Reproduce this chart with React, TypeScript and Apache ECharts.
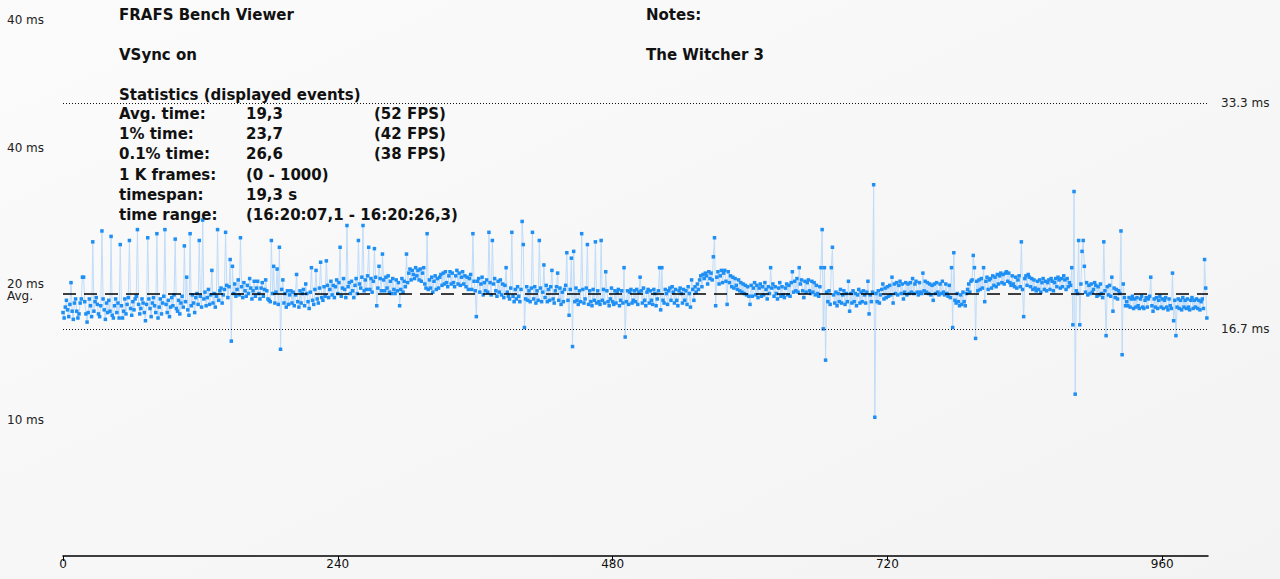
import React, { useEffect, useRef } from "react";
import * as echarts from "echarts";

// ---- frame times (ms), 100 frames per array ----
const frameTimes0 = [
  17.9, 17.5, 18.3, 18.8, 18.1, 17.6, 18.5, 20.1, 18.0, 17.4,
  18.6, 18.9, 18.0, 17.5, 17.8, 18.6, 18.9, 20.5, 20.5, 18.7,
  17.8, 17.2, 17.9, 18.9, 18.4, 17.6, 23.1, 18.0, 18.7, 19.0,
  18.5, 17.8, 17.6, 18.4, 23.9, 18.9, 18.1, 17.4, 18.6, 17.9,
  18.8, 18.0, 23.5, 17.7, 17.5, 18.4, 18.9, 17.9, 18.6, 17.5,
  22.9, 18.4, 17.5, 18.0, 18.9, 17.8, 18.5, 19.0, 23.2, 18.2,
  17.7, 18.7, 18.1, 18.9, 19.1, 24.0, 18.5, 17.8, 18.2, 18.9,
  18.6, 17.9, 17.3, 18.5, 23.4, 18.9, 18.2, 17.6, 18.6, 19.0,
  18.4, 17.9, 23.7, 17.5, 18.3, 18.9, 17.8, 18.6, 19.1, 24.0,
  18.5, 17.9, 18.8, 17.6, 18.3, 19.0, 18.4, 19.2, 23.3, 18.2,
];
const frameTimes1 = [
  18.0, 18.8, 17.8, 18.6, 19.1, 18.3, 22.8, 18.7, 20.5, 18.1,
  17.7, 23.7, 18.4, 19.2, 18.6, 17.9, 19.0, 19.3, 18.5, 23.2,
  19.1, 18.3, 24.7, 18.9, 19.4, 18.4, 19.0, 19.6, 18.5, 19.2,
  21.0, 18.6, 19.3, 18.3, 19.1, 24.0, 18.8, 19.5, 19.7, 18.6,
  19.2, 19.6, 23.8, 19.9, 19.0, 19.8, 21.8, 15.8, 21.3, 19.3,
  20.0, 19.1, 19.6, 20.3, 19.2, 23.4, 19.8, 19.0, 20.1, 19.5,
  19.1, 19.9, 19.3, 20.4, 19.7, 18.9, 19.5, 20.2, 19.1, 19.7,
  20.2, 19.3, 18.9, 19.7, 20.1, 19.1, 19.6, 20.3, 19.5, 18.9,
  18.8, 18.7, 23.2, 19.3, 21.3, 18.6, 19.4, 21.1, 18.5, 22.7,
  15.2, 19.6, 20.3, 18.6, 19.3, 18.3, 19.5, 18.5, 19.2, 19.5,
];
const frameTimes2 = [
  18.6, 19.4, 18.4, 19.2, 20.7, 18.7, 18.3, 19.5, 18.6, 19.3,
  19.6, 18.4, 20.0, 19.3, 18.7, 18.2, 19.4, 21.2, 18.8, 18.5,
  19.6, 21.0, 18.9, 18.6, 19.7, 21.6, 19.0, 18.8, 19.8, 19.1,
  21.7, 19.9, 19.0, 19.6, 20.2, 19.2, 19.9, 19.0, 19.8, 20.3,
  19.3, 20.1, 22.7, 19.1, 19.7, 20.4, 19.6, 19.0, 24.3, 19.8,
  20.1, 19.3, 20.2, 19.5, 19.0, 19.9, 20.4, 19.3, 23.2, 20.0,
  19.7, 20.5, 24.3, 19.5, 20.3, 19.6, 20.6, 22.7, 19.6, 20.4,
  19.4, 20.2, 22.6, 20.5, 18.4, 19.7, 21.3, 20.4, 19.5, 22.2,
  20.3, 19.5, 20.5, 19.7, 20.6, 19.4, 20.2, 19.3, 20.4, 19.6,
  19.3, 20.3, 19.5, 20.1, 18.4, 19.6, 20.4, 19.4, 20.2, 19.8,
];
const frameTimes3 = [
  22.2, 20.1, 20.8, 21.1, 20.3, 21.0, 20.7, 20.4, 21.2, 20.6,
  21.0, 20.3, 21.1, 20.2, 20.8, 21.2, 20.0, 19.7, 23.7, 19.6,
  20.3, 19.7, 20.5, 19.4, 20.2, 20.6, 19.6, 20.4, 19.7, 20.5,
  20.7, 19.9, 20.8, 20.0, 20.9, 20.1, 19.8, 20.6, 20.9, 20.0,
  20.8, 20.1, 19.8, 20.6, 21.0, 20.0, 20.8, 19.9, 20.5, 20.9,
  20.0, 20.6, 19.8, 20.5, 19.6, 20.4, 20.7, 19.6, 23.7, 20.2,
  19.5, 17.6, 20.2, 20.4, 19.4, 20.0, 20.5, 19.2, 20.1, 19.5,
  20.3, 19.4, 23.8, 20.1, 19.2, 23.2, 20.0, 20.4, 19.5, 19.1,
  20.2, 19.4, 20.3, 19.2, 20.0, 19.0, 19.9, 21.2, 19.4, 19.1,
  18.9, 19.7, 23.8, 19.1, 18.7, 19.6, 18.9, 19.8, 19.1, 18.7,
];
const frameTimes4 = [
  19.6, 24.6, 22.9, 16.8, 18.9, 19.8, 18.8, 19.5, 18.7, 19.7,
  23.8, 18.9, 19.8, 18.6, 19.5, 18.8, 23.2, 19.7, 18.7, 19.4,
  21.4, 19.0, 19.9, 18.7, 19.6, 18.8, 19.8, 21.0, 18.9, 18.6,
  19.5, 19.8, 20.8, 18.8, 19.7, 18.5, 19.4, 18.7, 19.6, 19.9,
  22.3, 18.8, 17.7, 19.6, 21.9, 15.4, 22.4, 18.7, 19.7, 18.8,
  18.5, 19.5, 18.7, 23.7, 19.6, 18.6, 18.9, 19.7, 22.9, 18.5,
  19.5, 18.7, 18.4, 19.6, 18.8, 23.1, 18.6, 19.5, 18.7, 18.5,
  23.2, 18.8, 19.6, 18.6, 20.9, 19.5, 18.7, 18.4, 18.9, 19.7,
  18.7, 18.5, 19.5, 18.6, 19.4, 19.6, 18.4, 18.8, 19.5, 18.6,
  21.2, 16.1, 18.7, 19.5, 18.5, 19.4, 19.6, 18.6, 18.8, 19.5,
];
const frameTimes5 = [
  18.7, 19.6, 18.5, 19.4, 20.5, 19.5, 18.6, 19.7, 18.8, 18.4,
  19.4, 19.6, 18.6, 19.5, 18.8, 18.5, 19.6, 19.3, 18.4, 18.9,
  19.5, 21.2, 18.1, 21.2, 18.8, 18.6, 19.6, 19.3, 18.5, 19.5,
  19.7, 18.8, 19.8, 19.4, 18.6, 19.6, 18.8, 18.4, 19.5, 19.7,
  19.3, 18.6, 19.6, 18.8, 19.5, 18.5, 19.8, 19.3, 18.3, 20.3,
  19.6, 18.8, 19.8, 19.4, 20.0, 19.6, 20.3, 20.6, 19.8, 20.7,
  20.4, 20.8, 20.6, 20.0, 20.9, 20.4, 20.8, 20.3, 22.0, 23.4,
  18.4, 20.5, 20.9, 20.0, 20.6, 21.0, 20.1, 20.8, 21.0, 20.2,
  18.5, 20.9, 20.1, 20.6, 19.8, 20.5, 19.7, 20.4, 19.9, 19.6,
  20.3, 19.5, 20.1, 19.4, 20.0, 19.3, 19.9, 19.2, 19.8, 19.1,
];
const frameTimes6 = [
  18.5, 19.9, 19.1, 19.7, 20.1, 19.2, 19.9, 19.0, 19.7, 20.0,
  19.1, 19.8, 19.2, 20.1, 19.6, 18.9, 19.8, 19.3, 21.2, 19.7,
  20.0, 19.1, 19.8, 19.3, 18.9, 19.7, 20.1, 19.1, 19.8, 19.2,
  19.0, 19.7, 20.0, 19.2, 19.9, 19.1, 20.1, 20.9, 19.4, 20.2,
  19.5, 20.4, 19.4, 21.2, 20.0, 20.3, 19.5, 19.0, 20.2, 19.4,
  20.1, 20.3, 19.5, 19.3, 20.2, 19.4, 20.1, 19.2, 19.9, 19.3,
  19.1, 19.8, 21.2, 24.0, 16.7, 21.2, 14.4, 19.4, 18.7, 19.5,
  18.5, 21.2, 22.7, 19.2, 18.6, 19.4, 18.4, 19.3, 18.7, 19.6,
  18.6, 19.2, 19.5, 18.5, 19.3, 18.7, 20.2, 18.0, 19.3, 18.6,
  19.5, 18.7, 19.3, 18.4, 19.2, 19.6, 18.6, 19.4, 18.7, 19.5,
];
const frameTimes7 = [
  19.2, 18.6, 19.4, 20.2, 17.8, 19.2, 18.7, 19.4, 27.3, 10.2,
  19.3, 18.7, 19.5, 18.6, 19.2, 19.6, 20.0, 18.9, 19.7, 19.0,
  19.8, 19.1, 19.9, 19.2, 20.5, 18.6, 20.0, 19.3, 20.1, 19.2,
  19.9, 20.2, 19.3, 20.0, 18.9, 19.4, 20.1, 19.2, 20.0, 19.3,
  20.1, 19.4, 20.4, 19.3, 20.0, 20.2, 19.4, 19.2, 20.1, 19.4,
  19.3, 20.8, 19.5, 20.2, 19.4, 20.1, 19.3, 20.0, 19.2, 19.9,
  18.8, 20.0, 19.3, 20.1, 19.4, 19.2, 20.0, 19.3, 20.2, 19.4,
  19.2, 20.0, 19.3, 19.1, 19.9, 19.0, 21.2, 16.8, 22.3, 18.8,
  18.6, 19.3, 18.7, 18.4, 19.2, 18.5, 19.4, 18.7, 18.4, 19.3,
  19.6, 20.0, 19.4, 20.2, 20.3, 22.1, 21.2, 16.0, 20.2, 19.5,
];
const frameTimes8 = [
  20.3, 19.6, 20.4, 19.7, 21.2, 18.7, 20.2, 20.5, 19.6, 20.3,
  20.4, 19.7, 20.6, 19.9, 20.5, 19.8, 20.7, 20.0, 20.6, 20.8,
  20.1, 20.7, 20.0, 20.8, 20.9, 20.2, 20.8, 20.1, 19.9, 20.6,
  20.0, 19.8, 20.5, 19.7, 20.3, 20.6, 19.8, 23.1, 19.6, 17.6,
  20.4, 20.6, 19.9, 20.7, 20.5, 19.8, 20.4, 19.6, 20.3, 19.7,
  19.5, 20.2, 19.6, 20.3, 19.4, 20.1, 20.4, 19.6, 20.2, 19.5,
  20.1, 20.3, 19.6, 20.4, 20.2, 19.5, 20.1, 20.4, 19.8, 20.5,
  20.3, 19.7, 20.4, 19.8, 20.6, 20.3, 19.6, 20.4, 19.8, 20.1,
  19.9, 21.2, 17.0, 26.8, 11.9, 19.5, 19.3, 23.2, 17.0, 20.0,
  22.4, 23.2, 21.3, 19.4, 20.1, 19.2, 19.9, 19.3, 20.0, 19.4,
];
const frameTimes9 = [
  19.6, 20.1, 19.9, 19.1, 19.8, 19.2, 20.0, 19.3, 19.0, 23.1,
  19.5, 16.2, 19.8, 19.2, 19.9, 19.1, 20.5, 18.0, 19.7, 19.0,
  19.6, 18.9, 19.5, 19.3, 23.9, 14.8, 20.0, 19.0, 18.4, 18.7,
  18.4, 19.0, 18.3, 18.9, 19.1, 18.2, 18.9, 18.3, 19.0, 18.4,
  18.2, 18.9, 19.1, 18.3, 18.2, 18.8, 19.0, 18.3, 18.9, 19.1,
  20.5, 18.4, 18.0, 18.9, 18.3, 19.0, 18.2, 18.8, 19.1, 18.3,
  18.9, 18.2, 18.8, 19.0, 18.3, 18.1, 18.9, 18.4, 18.2, 20.8,
  17.3, 18.8, 16.2, 18.3, 18.9, 18.2, 18.8, 18.1, 19.0, 18.3,
  18.8, 18.2, 18.9, 18.3, 18.1, 18.8, 19.0, 18.2, 18.8, 18.3,
  18.9, 18.2, 18.8, 18.1, 18.7, 18.9, 18.2, 21.8, 19.7, 17.5,
];

// ---- axes & reference values ----
const xTickValues = [0, 240, 480, 720, 960];
const xMax = 1000;
const yTickValues = [10, 20, 30];
const yTickLabels = ["10 ms", "20 ms", "40 ms"];
const yTopLabel = "40 ms";
const yMax = 40;
const avgTime = 19.3;
const refLineValues = [33.3, 16.7];
const refLineLabels = ["33.3 ms", "16.7 ms"];

// ---- header texts ----
const titleText = "FRAFS Bench Viewer";
const vsyncText = "VSync on";
const statsTitle = "Statistics (displayed events)";
const statLabels = ["Avg. time:", "1% time:", "0.1% time:", "1 K frames:", "timespan:", "time range:"];
const statValues = ["19,3", "23,7", "26,6", "(0 - 1000)", "19,3 s", "(16:20:07,1 - 16:20:26,3)"];
const statFps = ["(52 FPS)", "(42 FPS)", "(38 FPS)", "", "", ""];
const notesTitle = "Notes:";
const notesText = "The Witcher 3";

const frameTimes = [
  ...frameTimes0, ...frameTimes1, ...frameTimes2, ...frameTimes3, ...frameTimes4,
  ...frameTimes5, ...frameTimes6, ...frameTimes7, ...frameTimes8, ...frameTimes9,
];

export default function App() {
  const ref = useRef<HTMLDivElement>(null);

  useEffect(() => {
    if (!ref.current) return;
    const chart = echarts.init(ref.current, null, { renderer: "svg" });

    const boldFont = "bold 15px 'DejaVu Sans'";
    const smallFont = "12px 'DejaVu Sans'";
    const txt = (text: string, x: number, y: number, font = boldFont, fill = "#111") => ({
      type: "text",
      x,
      y,
      z: 100,
      style: { text, font, fill, align: "left", verticalAlign: "middle" },
    });

    const graphics: any[] = [
      txt(titleText, 119, 15),
      txt(vsyncText, 119, 55),
      txt(statsTitle, 119, 95),
      txt(notesTitle, 646, 15),
      txt(notesText, 646, 55),
      txt(yTopLabel, 7, 20, smallFont, "#222"),
      txt("Avg.", 7, 296, smallFont, "#222"),
    ];
    statLabels.forEach((l, i) => {
      const y = 114 + i * 20.2;
      graphics.push(txt(l, 119, y));
      graphics.push(txt(statValues[i], 246, y));
      if (statFps[i]) graphics.push(txt(statFps[i], 374, y));
    });

    chart.setOption({
      animation: false,
      backgroundColor: {
        type: "linear", x: 0, y: 0, x2: 1, y2: 1,
        colorStops: [
          { offset: 0, color: "#fbfbfb" },
          { offset: 1, color: "#f3f3f3" },
        ],
      },
      grid: { left: 63, right: 72, top: 12, bottom: 23, containLabel: false },
      xAxis: {
        type: "value",
        min: 0,
        max: xMax,
        interval: 240,
        axisLine: { show: true, lineStyle: { color: "#000", width: 1.5 } },
        axisTick: { show: true, length: 5, customValues: xTickValues, lineStyle: { color: "#000" } },
        axisLabel: {
          customValues: xTickValues,
          margin: 2,
          color: "#111",
          fontFamily: "DejaVu Sans",
          fontSize: 12,
        },
        splitLine: { show: false },
      },
      yAxis: {
        type: "value",
        min: 0,
        max: yMax,
        interval: 10,
        axisLine: { show: false },
        axisTick: { show: false },
        splitLine: { show: false },
        axisLabel: {
          customValues: yTickValues,
          formatter: (v: number) => {
            const i = yTickValues.indexOf(v);
            return i >= 0 ? yTickLabels[i] : "";
          },
          align: "left",
          margin: 56,
          color: "#222",
          fontFamily: "DejaVu Sans",
          fontSize: 12,
        },
      },
      series: [
        {
          type: "line",
          data: frameTimes.map((v, i) => [i, v]),
          symbol: "rect",
          symbolSize: 3.5,
          showSymbol: true,
          showAllSymbol: true,
          itemStyle: { color: "#1e8ff5" },
          lineStyle: { color: "#c0dcf8", width: 1 },
          z: 2,
          markLine: {
            silent: true,
            symbol: ["none", "none"],
            z: 5,
            data: [
              {
                yAxis: avgTime,
                lineStyle: { color: "#000", type: [13, 8], width: 1.5 },
                label: { show: false },
              },
              ...refLineValues.map((v, i) => ({
                yAxis: v,
                lineStyle: { color: "#111", type: [1, 2], width: 1 },
                label: {
                  show: true,
                  position: "end",
                  distance: 13,
                  formatter: refLineLabels[i],
                  color: "#222",
                  fontFamily: "DejaVu Sans",
                  fontSize: 12,
                },
              })),
            ],
          },
        },
      ],
      graphic: graphics,
    });

    return () => chart.dispose();
  }, []);

  return (
    <div
      ref={ref}
      style={{ position: "fixed", left: 0, top: 0, width: 1280, height: 579 }}
    />
  );
}
